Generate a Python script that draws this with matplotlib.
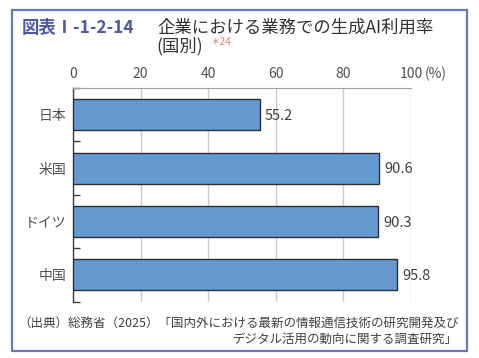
import matplotlib.pyplot as plt
from matplotlib.patches import Rectangle
import numpy as np

plt.rcParams['font.family'] = ['Noto Sans CJK JP', 'DejaVu Sans']

countries = ['日本', '米国', 'ドイツ', '中国']
rates = [55.2, 90.6, 90.3, 95.8]
xticks = [0, 20, 40, 60, 80, 100]

fig = plt.figure(figsize=(4.79, 3.58), dpi=100)

# outer frame
fig.patches.append(Rectangle((12 / 479, 1 - 351 / 358), 455 / 479, 341 / 358,
                             transform=fig.transFigure, fill=False,
                             edgecolor='#6b75b8', linewidth=1.6))

ax = fig.add_axes([73 / 479, 1 - 301.5 / 358, 338 / 479, 213.5 / 358])
y = np.arange(len(countries))
ax.barh(y, rates, height=0.58, color='#6699d0', edgecolor='#2b3038',
        linewidth=1.0, zorder=3)
for yi, v in zip(y, rates):
    ax.annotate(f'{v:.1f}', (v, yi), xytext=(4, -1), textcoords='offset points',
                ha='left', va='center', fontsize=10.5, color='#404040')

ax.set_xlim(0, 100)
ax.set_ylim(3.5, -0.5)
ax.xaxis.tick_top()
ax.set_xticks(xticks)
ax.set_xticklabels([str(t) for t in xticks])
ax.tick_params(axis='x', length=0, pad=5, labelsize=10, labelcolor='#505050')
ax.set_yticks(y)
ax.set_yticklabels(countries)
ax.tick_params(axis='y', length=0, pad=5, labelsize=10, labelcolor='#505050')
ax.set_yticks(np.arange(-0.5, 4, 1), minor=True)
ax.tick_params(axis='y', which='minor', direction='in', length=5,
               width=1.0, color='#404040')
ax.annotate('(%)', (100, 1), xycoords=('data', 'axes fraction'),
            xytext=(10, 5), textcoords='offset points', ha='left', va='bottom',
            fontsize=10, color='#505050')

ax.grid(axis='x', color='#cccccc', linewidth=1.0, zorder=0)
for s in ['right', 'bottom']:
    ax.spines[s].set_visible(False)
ax.spines['top'].set_color('#a0a0a0')
ax.spines['left'].set_color('#404040')
ax.spines['left'].set_linewidth(1.0)

# title
fig.text(22 / 479, 1 - 33 / 358, '図表Ⅰ-1-2-14', fontsize=12.5, fontweight='bold',
         color='#4d5aa6', ha='left', va='baseline')
fig.text(157 / 479, 1 - 33 / 358, '企業における業務での生成AI利用率', fontsize=12.5,
         color='#333333', ha='left', va='baseline')
fig.text(156 / 479, 1 - 51 / 358, '(国別)', fontsize=12.5,
         color='#333333', ha='left', va='baseline')
fig.text(211 / 479, 1 - 45 / 358, '＊24', fontsize=7,
         color='#e07a6e', ha='left', va='baseline')

# source
fig.text(18 / 479, 1 - 327 / 358,
         '（出典）総務省（2025）「国内外における最新の情報通信技術の研究開発及び',
         fontsize=9, color='#404040', ha='left', va='baseline')
fig.text(458 / 479, 1 - 343 / 358, 'デジタル活用の動向に関する調査研究」',
         fontsize=9, color='#404040', ha='right', va='baseline')

fig.savefig('out.png', dpi=100)
